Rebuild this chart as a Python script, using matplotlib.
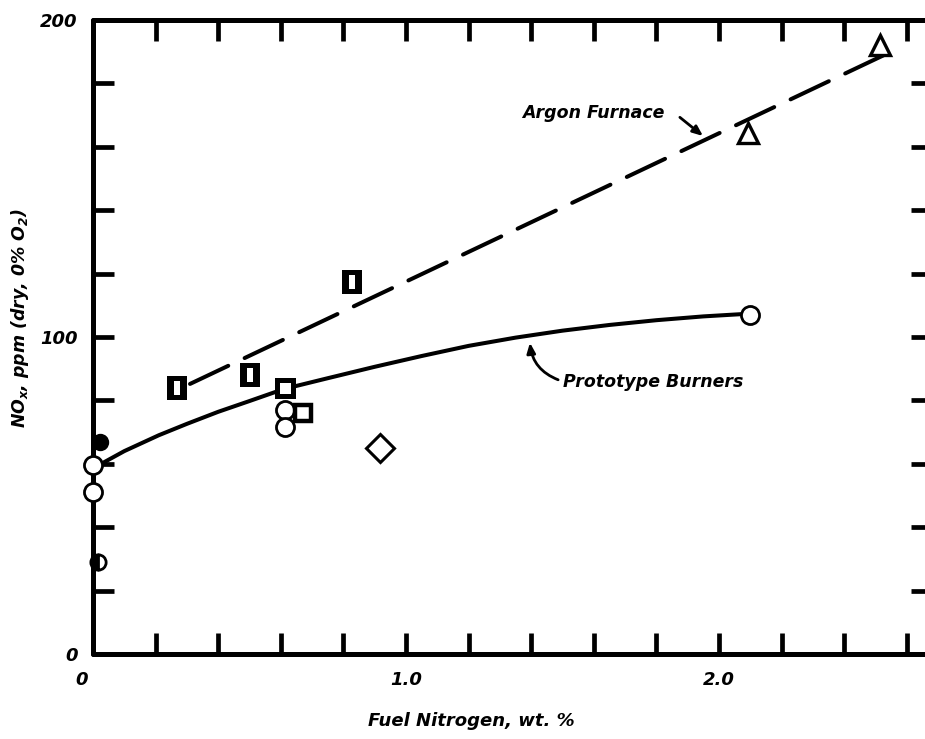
import matplotlib
matplotlib.use("Agg")
import matplotlib.pyplot as plt
from matplotlib.path import Path
from matplotlib.ticker import MultipleLocator, FuncFormatter

plt.rcParams['font.family'] = ['DejaVu Sans']
plt.rcParams['font.weight'] = 'bold'
plt.rcParams['font.style'] = 'italic'
plt.rcParams['mathtext.fontset'] = 'custom'
plt.rcParams['mathtext.rm'] = 'DejaVu Sans:italic:bold'
plt.rcParams['mathtext.it'] = 'DejaVu Sans:italic:bold'
plt.rcParams['mathtext.bf'] = 'DejaVu Sans:italic:bold'

# ---- data -------------------------------------------------------------
# Argon furnace measurements (slotted squares)
argon_sq_x = [0.268, 0.502, 0.827]
argon_sq_y = [83.9, 88.0, 117.3]
# Argon furnace measurements (triangles)
argon_tri_x = [2.093, 2.514]
argon_tri_y = [164.4, 192.0]
# Argon furnace trend (dashed)
argon_fit_x = [0.31, 2.55]
argon_fit_y = [85.2, 190.0]

# Prototype burner measurements
proto_open_circ_x = [0.0, 0.0, 0.613, 0.613, 2.10]
proto_open_circ_y = [59.6, 51.1, 77.0, 71.6, 107.0]
proto_filled_circ_x = [0.022]
proto_filled_circ_y = [66.9]
proto_half_circ_x = [0.016]
proto_half_circ_y = [29.0]
proto_open_sq_x = [0.613]
proto_open_sq_y = [84.0]
proto_flag_sq_x = [0.671]
proto_flag_sq_y = [76.0]
proto_diamond_x = [0.917]
proto_diamond_y = [65.0]
# Prototype burner trend (solid, hand-faired curve)
proto_fit_x = [0.03, 0.10, 0.21, 0.30, 0.40, 0.50, 0.61, 0.75, 0.90, 1.05,
               1.20, 1.35, 1.50, 1.65, 1.80, 1.95, 2.07]
proto_fit_y = [60.2, 64.0, 69.0, 72.6, 76.4, 79.8, 83.6, 87.0, 90.6, 94.0,
               97.2, 99.8, 102.0, 103.8, 105.3, 106.5, 107.2]

x_labels = {1.0: "1.0", 2.0: "2.0"}
y_labels = {0: "0", 100: "100", 200: "200"}

# ---- figure ----------------------------------------------------------
W, H = 925, 739
fig = plt.figure(figsize=(W / 100, H / 100), dpi=100)
x_max = 2.68
px_per_x = 313.0
ax = fig.add_axes([93 / W, 85 / H, x_max * px_per_x / W, 634 / H])
ax.set_xlim(0, x_max)
ax.set_ylim(0, 200)

for s in ax.spines.values():
    s.set_linewidth(3.6)
    s.set_capstyle('round')

ax.xaxis.set_major_locator(MultipleLocator(0.2))
ax.yaxis.set_major_locator(MultipleLocator(20))
ax.xaxis.set_major_formatter(FuncFormatter(
    lambda v, p: x_labels.get(round(v, 1), "")))
ax.yaxis.set_major_formatter(FuncFormatter(
    lambda v, p: y_labels.get(int(round(v)), "")))
ax.tick_params(which='major', direction='in', length=15, width=3.4,
               top=True, right=True, labelsize=13, colors='black')
ax.tick_params(axis='x', pad=12)
ax.tick_params(axis='y', pad=11)
# origin label on the x axis sits a little left of its tick
ax.text(-0.035, -8.2, "0", ha='center', va='center', fontsize=13,
        clip_on=False)

# slotted square marker: filled square with a narrow vertical slot
slot = Path(
    [(-0.43, -0.5), (0.43, -0.5), (0.43, 0.5), (-0.43, 0.5), (-0.43, -0.5),
     (-0.12, -0.3), (-0.12, 0.3), (0.12, 0.3), (0.12, -0.3), (-0.12, -0.3)],
    [Path.MOVETO, Path.LINETO, Path.LINETO, Path.LINETO, Path.CLOSEPOLY] * 2)

# trend lines
ax.plot(argon_fit_x, argon_fit_y, color='black', lw=2.9,
        dashes=(10.5, 4.5), solid_capstyle='round', dash_capstyle='round')
ax.plot(proto_fit_x, proto_fit_y, color='black', lw=2.9,
        solid_capstyle='round', solid_joinstyle='round')

# markers
ax.plot(argon_sq_x, argon_sq_y, ls='none', marker=slot, ms=17,
        mfc='black', mec='black', mew=0, clip_on=False, zorder=4)
ax.plot(argon_tri_x, argon_tri_y, ls='none', marker='^', ms=14,
        mfc='white', mec='black', mew=2.4, clip_on=False, zorder=4)
ax.plot(proto_open_circ_x, proto_open_circ_y, ls='none', marker='o', ms=13,
        mfc='white', mec='black', mew=2.0, clip_on=False, zorder=4)
ax.plot(proto_filled_circ_x, proto_filled_circ_y, ls='none', marker='o',
        ms=11, mfc='black', mec='black', mew=1.5, clip_on=False, zorder=4)
ax.plot(proto_half_circ_x, proto_half_circ_y, ls='none', marker='o', ms=11,
        fillstyle='left', mfc='black', mfcalt='white', mec='black', mew=2.0,
        clip_on=False, zorder=4)
ax.plot(proto_open_sq_x, proto_open_sq_y, ls='none', marker='s', ms=12,
        mfc='white', mec='black', mew=3.6, clip_on=False, zorder=5)
ax.plot(proto_flag_sq_x, proto_flag_sq_y, ls='none', marker='s', ms=11,
        mfc='white', mec='black', mew=3.2, clip_on=False, zorder=4)
ax.plot(proto_diamond_x, proto_diamond_y, ls='none', marker='D', ms=14,
        mfc='white', mec='black', mew=2.2, clip_on=False, zorder=4)

# annotations
arrow = dict(arrowstyle='-|>,head_length=0.6,head_width=0.25',
             color='black', lw=2.0, shrinkA=0, shrinkB=0)
ax.text(1.827, 170.7, "Argon Furnace", ha='right', va='center', fontsize=12.5)
ax.annotate("", xy=(1.949, 163.4), xytext=(1.875, 169.3), arrowprops=arrow)
ax.text(1.502, 85.8, "Prototype Burners", ha='left', va='center',
        fontsize=12.5)
ax.annotate("", xy=(1.396, 98.2), xytext=(1.486, 86.5),
            arrowprops=dict(arrow, connectionstyle='arc3,rad=-0.3'))

# axis titles
fig.text(471 / W, 1 - 721 / H, "Fuel Nitrogen, wt. %", ha='center',
         va='center', fontsize=13)
fig.text(20 / W, 1 - 318 / H, r"NO$_x$, ppm (dry, 0% O$_2$)", ha='center',
         va='center', rotation=90, fontsize=12.5)

fig.savefig("out.png", dpi=100)
